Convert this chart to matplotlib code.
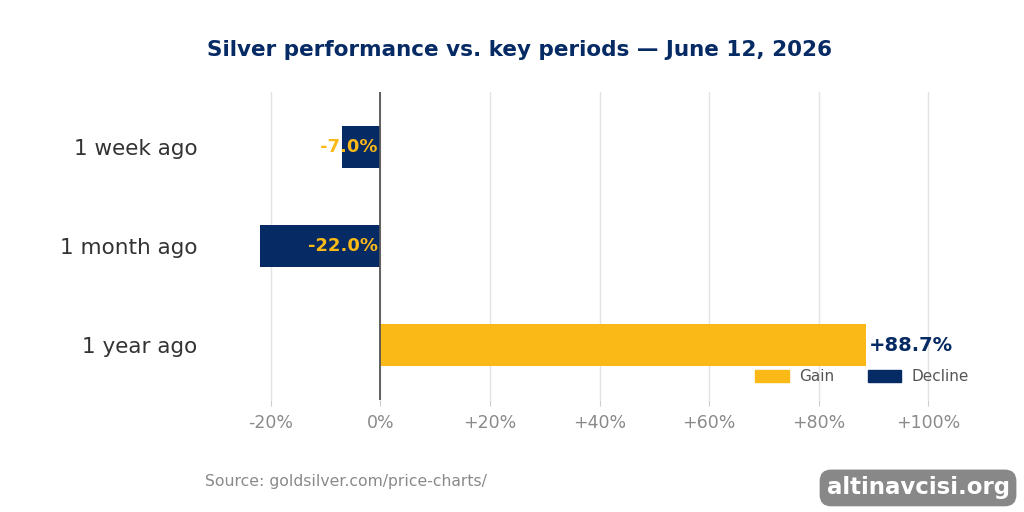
import matplotlib.pyplot as plt
from matplotlib.patches import Patch

# -----------------------------------------
# DATA
# -----------------------------------------
periods = ["1 week ago", "1 month ago", "1 year ago"]
changes = [-7.0, -22.0, 88.7]
xticks = [-20, 0, 20, 40, 60, 80, 100]
xtick_labels = ["-20%", "0%", "+20%", "+40%", "+60%", "+80%", "+100%"]

GOLD = "#FBB918"
NAVY = "#062A64"

# -----------------------------------------
# PLOT
# -----------------------------------------
fig = plt.figure(figsize=(10.24, 5.12), dpi=100)
ax = fig.add_axes([0.211, 0.219, 0.749, 0.601])

ypos = list(range(len(periods)))
colors = [GOLD if v >= 0 else NAVY for v in changes]
ax.barh(ypos, changes, height=0.42, color=colors, zorder=3)

for y, v in zip(ypos, changes):
    if v < 0:
        ax.text(-0.5, y, f"{v:.1f}%", ha="right", va="center",
                color=GOLD, fontsize=13, fontweight="bold", zorder=4)
    else:
        ax.text(v + 0.4, y, f"+{v:.1f}%", ha="left", va="center",
                color=NAVY, fontsize=14, fontweight="bold", zorder=4)

ax.axvline(0, color="#555555", lw=1.3, zorder=4)

ax.set_xlim(-30, 110)
ax.set_ylim(2.55, -0.55)
ax.set_yticks(ypos)
ax.set_yticklabels(periods, fontsize=15.5, color="#333333")
ax.set_xticks(xticks)
ax.set_xticklabels(xtick_labels, fontsize=12.5, color="#8a8a8a")
ax.tick_params(axis="y", length=0, pad=13.5)
ax.tick_params(axis="x", length=4, color="#cccccc", pad=6)
ax.grid(axis="x", color="#e3e3e3", lw=1, zorder=0)
for s in ax.spines.values():
    s.set_visible(False)

handles = [Patch(color=GOLD, label="Gain"), Patch(color=NAVY, label="Decline")]
leg = ax.legend(handles=handles, loc="lower right", ncol=2, frameon=False,
                fontsize=11, handlelength=2.2, handleheight=0.8,
                handletextpad=0.65, columnspacing=2.2,
                bbox_to_anchor=(0.999, 0.007))
for t in leg.get_texts():
    t.set_color("#555555")

fig.text(0.507, 0.902, "Silver performance vs. key periods \u2014 June 12, 2026",
         ha="center", va="center", fontsize=15.5, fontweight="bold", color=NAVY)
fig.text(0.2, 0.06, "Source: goldsilver.com/price-charts/", ha="left",
         va="center", fontsize=11.25, color="#8a8a8a")
fig.text(0.8965, 0.047, "altinavcisi.org", ha="center", va="center",
         fontsize=16.5, fontweight="bold", color="white",
         bbox=dict(boxstyle="round,pad=0.3,rounding_size=0.5",
                   fc="#888888", ec="none"))

plt.savefig("out.png", dpi=100)
